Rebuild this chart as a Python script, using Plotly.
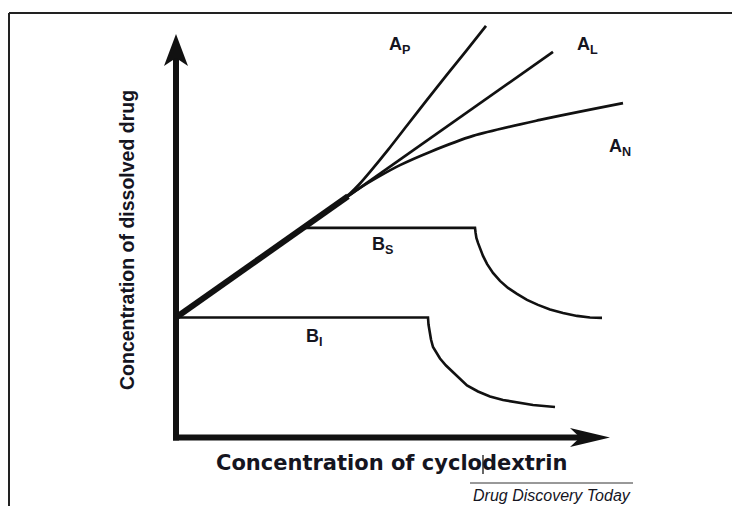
import plotly.graph_objects as go

# ---- data (schematic phase-solubility diagram, arbitrary units) ----
S0 = 3.0  # intrinsic solubility

linear_x = [0.0, 4.3]
linear_y = [3.0, 6.03]

ap_x = [4.0, 4.35, 4.6, 4.85, 5.3, 5.775, 6.275, 6.775, 7.25, 7.75]
ap_y = [5.82, 6.10, 6.35, 6.64, 7.19, 7.80, 8.44, 9.07, 9.66, 10.29]

al_x = [4.0, 9.425]
al_y = [5.82, 9.64]

an_x = [4.0, 4.6, 5.1, 5.6, 6.35, 7.425, 9.1, 11.175]
an_y = [5.82, 6.24, 6.54, 6.81, 7.14, 7.54, 7.94, 8.36]

bs_x = [3.18, 7.475, 7.49, 7.51, 7.55, 7.6, 7.675, 7.775, 7.925, 8.1, 8.3, 8.525,
        8.775, 9.05, 9.35, 9.675, 10.025, 10.35, 10.65]
bs_y = [5.24, 5.24, 5.115, 4.99, 4.865, 4.715, 4.54, 4.34, 4.115, 3.915, 3.74, 3.59,
        3.44, 3.315, 3.2, 3.115, 3.04, 3.0, 2.99]

bi_x = [0.0, 6.3, 6.3125, 6.3375, 6.375, 6.425, 6.5, 6.6, 6.75, 6.925, 7.1, 7.275,
        7.55, 7.85, 8.175, 8.525, 8.925, 9.475]
bi_y = [3.0, 3.0, 2.825, 2.65, 2.45, 2.2625, 2.125, 1.975, 1.8, 1.625, 1.45, 1.3,
        1.15, 1.025, 0.9375, 0.875, 0.8125, 0.7625]

labels = ["A<sub>P</sub>", "A<sub>L</sub>", "A<sub>N</sub>", "B<sub>S</sub>", "B<sub>I</sub>"]
label_x = [5.575, 10.275, 11.1, 5.15, 3.45]
label_y = [9.79, 9.79, 7.24, 4.79, 2.49]

x_title = "Concentration of cyclodextrin"
y_title = "Concentration of dissolved drug"
source = "Drug Discovery Today"

# ---- geometry / style ----
W, H = 732, 506
PX = 40.0              # pixels per data unit
OX, OY = 176.0, 437.5  # pixel position of origin
x_rng = [-OX / PX, (W - OX) / PX]
y_rng = [(OY - H) / PX, OY / PX]

INK = "#111111"
TXT = "#15151f"

fig = go.Figure()

def add_line(x, y, w, shape="linear", smooth=None):
    ln = dict(color=INK, width=w, shape=shape)
    if smooth is not None:
        ln["smoothing"] = smooth
    fig.add_trace(go.Scatter(x=x, y=y, mode="lines", line=ln,
                             hoverinfo="skip", showlegend=False))

add_line(bi_x, bi_y, 2.6)
add_line(bs_x, bs_y, 2.6)
add_line(al_x, al_y, 2.7)
add_line(ap_x, ap_y, 2.7, "spline", 0.8)
add_line(an_x, an_y, 2.7, "spline", 0.8)
add_line(linear_x, linear_y, 6.0)

# axes with arrowheads
y_tip = (OY - 34) / PX
x_tip = (610 - OX) / PX
yh_len, yh_half, yh_notch = 32 / PX, 12 / PX, 8 / PX
xh_len, xh_half, xh_notch = 40 / PX, 9.5 / PX, 10 / PX
shapes = []
shapes.append(dict(type="line", xref="x", yref="y", x0=0, x1=0, y0=-3 / PX,
                   y1=y_tip - yh_len + yh_notch, line=dict(color=INK, width=6)))
shapes.append(dict(type="line", xref="x", yref="y", x0=-3 / PX, x1=x_tip - xh_len + xh_notch,
                   y0=0, y1=0, line=dict(color=INK, width=6)))
shapes.append(dict(type="path", xref="x", yref="y", fillcolor=INK, line=dict(width=0),
                   path=f"M0,{y_tip} L{yh_half},{y_tip - yh_len} L0,{y_tip - yh_len + yh_notch} "
                        f"L{-yh_half},{y_tip - yh_len} Z"))
shapes.append(dict(type="path", xref="x", yref="y", fillcolor=INK, line=dict(width=0),
                   path=f"M{x_tip},0 L{x_tip - xh_len},{xh_half} L{x_tip - xh_len + xh_notch},0 "
                        f"L{x_tip - xh_len},{-xh_half} Z"))
# frame
shapes.append(dict(type="line", xref="paper", yref="paper", x0=9 / W, x1=1, y0=1 - 13 / H, y1=1 - 13 / H,
                   line=dict(color="#222222", width=2)))
shapes.append(dict(type="line", xref="paper", yref="paper", x0=9 / W, x1=9 / W, y0=0, y1=1 - 13 / H,
                   line=dict(color="#222222", width=2)))
# source overline and text cursor
shapes.append(dict(type="line", xref="paper", yref="paper", x0=470 / W, x1=633 / W,
                   y0=1 - 483 / H, y1=1 - 483 / H, line=dict(color="#333333", width=1)))
shapes.append(dict(type="line", xref="paper", yref="paper", x0=483 / W, x1=483 / W,
                   y0=1 - 455 / H, y1=1 - 474 / H, line=dict(color="#000000", width=1.2)))

annotations = []
for t, lx, ly in zip(labels, label_x, label_y):
    annotations.append(dict(text=t, x=lx, y=ly, xref="x", yref="y", showarrow=False,
                            xanchor="center", yanchor="middle",
                            font=dict(family="Liberation Sans", size=18, color=TXT, weight="bold")))
annotations.append(dict(text=x_title, x=391 / W, y=1 - 463 / H, xref="paper", yref="paper",
                        showarrow=False, xanchor="center", yanchor="middle",
                        font=dict(family="DejaVu Sans", size=21, color=TXT, weight="bold")))
annotations.append(dict(text=y_title, x=127 / W, y=1 - 240 / H, xref="paper", yref="paper",
                        showarrow=False, xanchor="center", yanchor="middle", textangle=-90,
                        font=dict(family="Liberation Sans", size=19.5, color=TXT, weight="bold")))
annotations.append(dict(text=f"<i>{source}</i>", x=552 / W, y=1 - 495 / H, xref="paper", yref="paper",
                        showarrow=False, xanchor="center", yanchor="middle",
                        font=dict(family="Liberation Sans", size=16, color=TXT)))

fig.update_layout(
    width=W, height=H, margin=dict(l=0, r=0, t=0, b=0),
    paper_bgcolor="white", plot_bgcolor="white",
    xaxis=dict(range=x_rng, visible=False, fixedrange=True),
    yaxis=dict(range=y_rng, visible=False, fixedrange=True),
    shapes=shapes, annotations=annotations, showlegend=False,
)

fig.write_html("out.html", config={"displayModeBar": False},
               post_script="document.body.style.margin='0';document.body.style.overflow='hidden';")
